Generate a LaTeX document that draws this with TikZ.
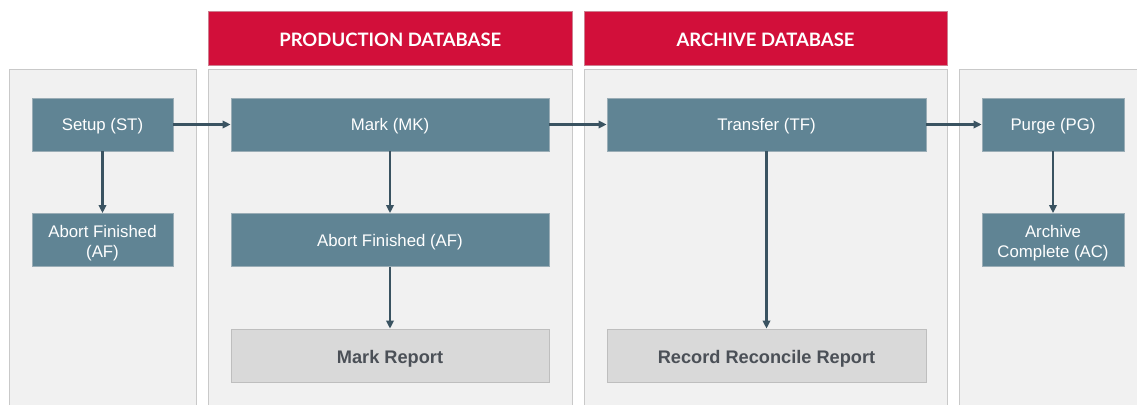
\documentclass[tikz,border=0pt]{standalone}
\usepackage{fontspec}
\setmainfont{Liberation Sans}
\newfontfamily\hdrfont{Lato}
\usetikzlibrary{arrows.meta}
\definecolor{panelfill}{HTML}{F1F1F1}
\definecolor{paneldraw}{HTML}{C9C9C9}
\definecolor{hdrred}{HTML}{D20F3A}
\definecolor{boxfill}{HTML}{608494}
\definecolor{boxdraw}{HTML}{9AADB6}
\definecolor{repfill}{HTML}{D9D9D9}
\definecolor{repdraw}{HTML}{BEBEBE}
\definecolor{reptext}{HTML}{4B5057}
\definecolor{arrowcol}{HTML}{3A5361}
\begin{document}
\begin{tikzpicture}[x=1pt,y=-1pt,
  panel/.style={fill=panelfill,draw=paneldraw,line width=1pt},
  hdr/.style={fill=hdrred,draw=paneldraw!60!hdrred,line width=0.8pt,text=white,
    font=\hdrfont\bfseries\fontsize{18.5}{20}\selectfont,inner sep=0pt,
    text height=16pt,text depth=0pt},
  stepbox/.style={fill=boxfill,draw=boxdraw,line width=0.8pt,text=white,
    minimum height=53pt,align=center,inner sep=0pt,
    font=\fontsize{16.8}{20.5}\selectfont,text height=12pt,text depth=0pt},
  twoline/.style={text height=35.5pt,text depth=0pt},
  repbox/.style={fill=repfill,draw=repdraw,line width=0.8pt,text=reptext,
    minimum height=53pt,inner sep=0pt,font=\bfseries\fontsize{18.2}{20}\selectfont,
    text height=15pt,text depth=0pt},
  flow/.style={draw=arrowcol,line width=2.2pt,-{Triangle[length=8pt,width=7.5pt]}}
]
\useasboundingbox (0,0) rectangle (1137,404);
\fill[white] (0,0) rectangle (1137,404);
% panels
\draw[panel] (9,69.5) rectangle (196.5,410);
\draw[panel] (208.5,69.5) rectangle (572,410);
\draw[panel] (584,69.5) rectangle (947,410);
\draw[panel] (959.5,69.5) rectangle (1150,410);
% headers
\node[hdr,minimum width=363.5pt,minimum height=54pt] (hp) at (390.25,38.25) {PRODUCTION DATABASE};
\node[hdr,minimum width=363pt,minimum height=54pt] (ha) at (765.5,38.25) {ARCHIVE DATABASE};
% step boxes
\node[stepbox,minimum width=141pt] (st) at (102.5,124.5) {Setup (ST)};
\node[stepbox,twoline,minimum width=141pt] (af1) at (102.5,240) {Abort Finished\\(AF)};
\node[stepbox,minimum width=318pt] (mk) at (390,124.5) {Mark (MK)};
\node[stepbox,minimum width=318pt] (af2) at (390,240) {Abort Finished (AF)};
\node[repbox,minimum width=318pt] (mr) at (390,355.5) {Mark Report};
\node[stepbox,minimum width=319pt] (tf) at (766.5,124.5) {Transfer (TF)};
\node[repbox,minimum width=319pt] (rr) at (766.5,355.5) {Record Reconcile Report};
\node[stepbox,minimum width=142pt] (pg) at (1053,124.5) {Purge (PG)};
\node[stepbox,twoline,minimum width=142pt] (ac) at (1053,240) {Archive\\Complete (AC)};
% connectors
\draw[flow] (st) -- (mk);
\draw[flow] (mk) -- (tf);
\draw[flow] (tf) -- (pg);
\draw[flow] (st) -- (af1);
\draw[flow] (mk) -- (af2);
\draw[flow] (af2) -- (mr);
\draw[flow] (tf) -- (rr);
\draw[flow] (pg) -- (ac);
\end{tikzpicture}
\end{document}
